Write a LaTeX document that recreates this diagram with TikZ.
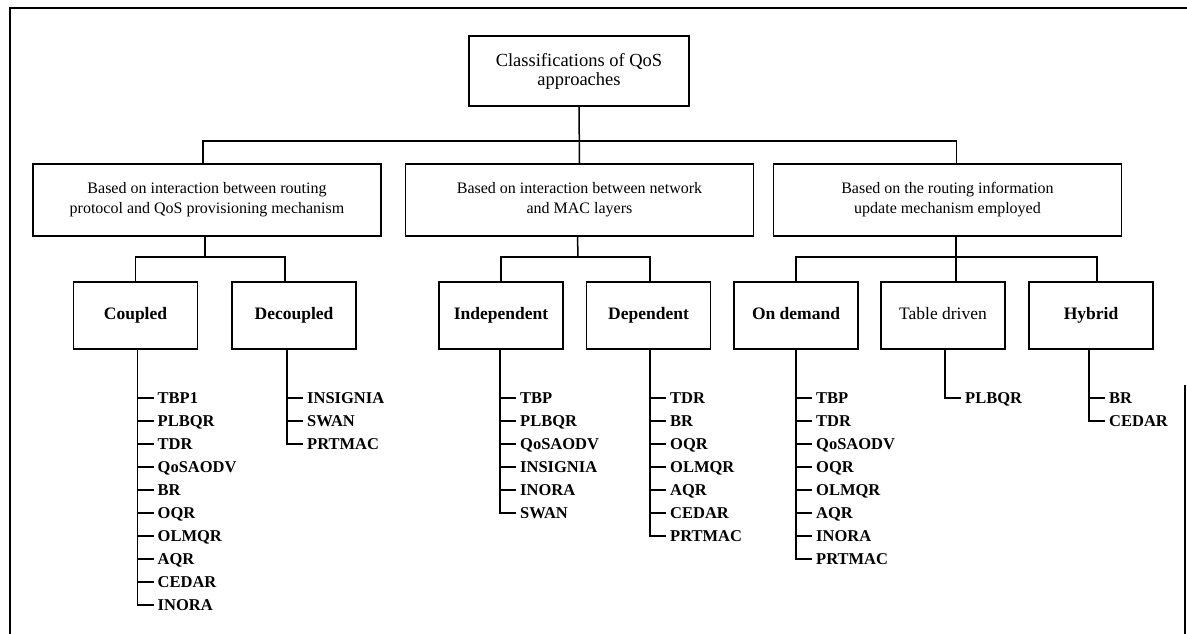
\documentclass[tikz,border=0pt]{standalone}
\usepackage{fontspec}
\setmainfont{Liberation Serif}
\usetikzlibrary{calc}

\tikzset{
  frame/.style={line width=1.6pt},
  link/.style={line width=1.5pt},
  rootbox/.style={draw, line width=1.6pt, minimum width=220pt, minimum height=70pt,
    inner sep=0pt, align=center, font=\fontsize{18.5}{19}\selectfont},
  catbox/.style={draw, line width=1.6pt, minimum width=348pt, minimum height=72pt,
    inner sep=0pt, align=center, font=\fontsize{16}{20}\selectfont},
  subbox/.style={draw, line width=1.6pt, minimum width=124pt, minimum height=67pt,
    inner sep=0pt, text height=11.5pt, text depth=3pt, align=center,
    font=\fontsize{17.5}{20}\selectfont\bfseries},
  leaf/.style={anchor=west, inner xsep=4pt, inner ysep=0pt, text height=11pt,
    text depth=0pt, font=\fontsize{16.5}{18}\selectfont\bfseries},
}

% protocol list hanging below a box: #1 box name, #2 trunk shift, #3 labels
\newcommand{\protolist}[3]{%
  \foreach \lbl [count=\i] in {#3} {%
    \pgfmathsetmacro{\yy}{48+(\i-1)*23}%
    \pgfmathsetmacro{\xx}{#2+16}%
    \node[leaf] (#1-\i) at ($(#1.south)+(\xx,\yy)$) {\lbl};
    \draw[link] ([xshift=#2 pt]#1.south) |- (#1-\i.west);
  }%
}

\begin{document}
\begin{tikzpicture}[x=1pt, y=-1pt]
  \useasboundingbox (0,0) rectangle (1187,634);
  \fill[white] (0,0) rectangle (1187,634);

  % outer frame
  \draw[frame] (10,640) -- (10,8) -- (1187,8);
  \draw[frame] (1185,385) -- (1185,640);

  % boxes
  \node[rootbox] (root) at (579,71) {Classifications of QoS\\approaches};

  \node[catbox] (l1a) at (207,200) {Based on interaction between routing\\protocol and QoS provisioning mechanism};
  \node[catbox] (l1b) at (579.5,200) {Based on interaction between network\\and MAC layers};
  \node[catbox] (l1c) at (947.5,200) {Based on the routing information\\update mechanism employed};

  \node[subbox] (cp)  at (135.5,315.5) {Coupled};
  \node[subbox] (dc)  at (294,315.5)   {Decoupled};
  \node[subbox] (ind) at (501,315.5)   {Independent};
  \node[subbox] (dp)  at (648.5,315.5) {Dependent};
  \node[subbox] (od)  at (796,315.5)   {On demand};
  \node[subbox, font=\fontsize{17.5}{20}\selectfont] (td) at (943,315.5) {Table driven};
  \node[subbox] (hy)  at (1091,315.5)  {Hybrid};

  % bus lines
  \coordinate (bus0) at (579,141);
  \coordinate (busA) at (207,257);
  \coordinate (busB) at (578,257);
  \coordinate (busC) at (956,257);

  \draw[link] (root.south) -- (l1b.north);
  \draw[link] ([xshift=-4pt]l1a.north) |- (bus0) -| ([xshift=9pt]l1c.north);

  \draw[link] ([xshift=-2pt]l1a.south) -- ([xshift=-2pt]l1a.south |- busA);
  \draw[link] (cp.north) |- (busA) -| ([xshift=-9pt]dc.north);

  \draw[link] ([xshift=-2pt]l1b.south) -- (busB);
  \draw[link] (ind.north) |- (busB) -| ([xshift=1.5pt]dp.north);

  \draw[link] ([xshift=8.5pt]l1c.south) -- (busC) -- ([xshift=13pt]td.north);
  \draw[link] (od.north) |- (busC) -| ([xshift=6pt]hy.north);

  % protocol lists
  \protolist{cp}{2}{TBP1,PLBQR,TDR,QoSAODV,BR,OQR,OLMQR,AQR,CEDAR,INORA}
  \protolist{dc}{-7}{INSIGNIA,SWAN,PRTMAC}
  \protolist{ind}{-1}{TBP,PLBQR,QoSAODV,INSIGNIA,INORA,SWAN}
  \protolist{dp}{1.5}{TDR,BR,OQR,OLMQR,AQR,CEDAR,PRTMAC}
  \protolist{od}{0}{TBP,TDR,QoSAODV,OQR,OLMQR,AQR,INORA,PRTMAC}
  \protolist{td}{2}{PLBQR}
  \protolist{hy}{-2}{BR,CEDAR}
\end{tikzpicture}
\end{document}
